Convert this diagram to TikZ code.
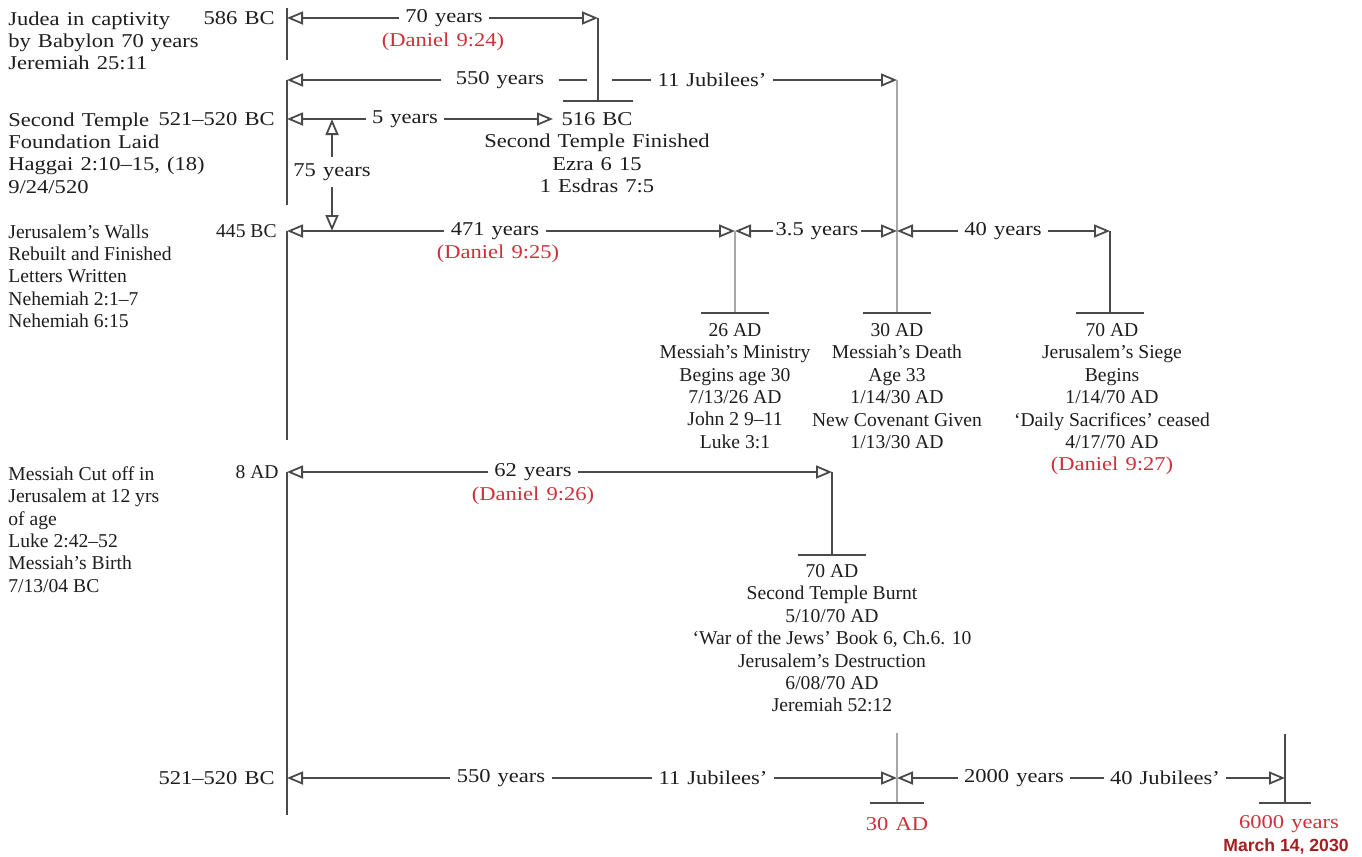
\documentclass[tikz,border=0pt]{standalone}
\usepackage{fontspec}
\setmainfont{Liberation Serif}
\newfontfamily\widefont[FakeStretch=1.15, WordSpace=1.25, Ligatures=TeX]{Liberation Serif}
\newfontfamily\plainfont[Ligatures=TeX]{Liberation Serif}
\newfontfamily\datefont{Liberation Sans}
\usetikzlibrary{arrows.meta}

\definecolor{ink}{HTML}{1E1E1E}
\definecolor{linegray}{HTML}{4A4A4A}
\definecolor{faintgray}{HTML}{A8A8A8}
\definecolor{danred}{HTML}{D0303A}
\definecolor{datered}{HTML}{A41E22}

\begin{document}
\begin{tikzpicture}
    [
        x=0.5pt, y=-0.5pt,
        time line/.style={draw=linegray, line width=0.8pt},
        span line/.style={draw=linegray, line width=0.9pt},
        span arrow/.style={span line, -{Triangle[open, length=8pt, width=6.5pt]}},
        faint line/.style={draw=faintgray, line width=0.6pt},
        bar line/.style={draw=linegray, line width=1.3pt},
        wide label/.style={font=\widefont\fontsize{9.8}{11.2}\selectfont, text=ink, inner sep=3pt},
        plain label/.style={font=\plainfont\fontsize{9.8}{11.2}\selectfont, text=ink, inner sep=2pt},
        wide block/.style={wide label, inner sep=0pt},
        plain block/.style={plain label, inner sep=0pt, align=center},
        daniel/.style={wide label, text=danred}
    ]

    \path [fill=white] (0, 0) rectangle (1362, 857);

    % left column
    \node [wide block, anchor=north west, align=left] (judea) at (8, 11) {Judea in captivity\\by Babylon 70 years\\Jeremiah 25:11};
    \node [wide label, anchor=east] (d586) at (281, 18) {586 BC};
    \node [wide block, anchor=north west, align=left] (temple) at (8, 112) {Second Temple\\Foundation Laid\\Haggai 2:10–15, (18)\\9/24/520};
    \node [wide label, anchor=east] (d521) at (281, 119) {521–520 BC};
    \node [plain block, anchor=north west, align=left] (walls) at (8, 224) {Jerusalem’s Walls\\Rebuilt and Finished\\Letters Written\\Nehemiah 2:1–7\\Nehemiah 6:15};
    \node [plain label, anchor=east] (d445) at (281, 231) {445 BC};
    \node [plain block, anchor=north west, align=left] (cutoff) at (8, 466) {Messiah Cut off in\\Jerusalem at 12 yrs\\of age\\Luke 2:42–52\\Messiah’s Birth\\7/13/04 BC};
    \node [plain label, anchor=east] (d8) at (283, 472) {8 AD};
    \node [wide label, anchor=east] (d521b) at (281, 778) {521–520 BC};

    \coordinate (t586) at (287, 8);
    \coordinate (t586e) at (287, 60);
    \coordinate (t550) at (287, 80);
    \coordinate (t521) at (287, 119);
    \coordinate (t521e) at (287, 205);
    \coordinate (t445) at (287, 231);
    \coordinate (t445e) at (287, 440);
    \coordinate (t8) at (287, 472);
    \coordinate (t8e) at (287, 815);
    \coordinate (tb) at (287, 778);
    \coordinate (t586a) at (287, 18);

    \draw [time line] (t586) -- (t586e);
    \draw [time line] (t550) -- (t521e);
    \draw [time line] (t445) -- (t445e);
    \draw [time line] (t8) -- (t8e);

    % 70 years
    \coordinate (e516) at (598, 18);
    \coordinate (e516b) at (598, 101);
    \node [wide label] (y70) at (444, 18) {70 years};
    \node [daniel] (dan24) at (443, 42) {(Daniel 9:24)};
    \draw [span arrow] (y70) -- (t586a);
    \draw [span arrow] (y70) -- (e516);
    \draw [time line] (e516) -- (e516b);
    \draw [bar line] (e516b) +(-35, 0) -- +(35, 0);

    % 550 years
    \coordinate (g550a) at (587, 80);
    \coordinate (g550b) at (612, 80);
    \coordinate (e30) at (897, 80);
    \coordinate (e30b) at (897, 313);
    \node [wide label, inner xsep=7pt] (y550) at (500, 80) {550 years};
    \node [wide label] (jub11) at (712, 80) {11 Jubilees’};
    \draw [span arrow] (y550) -- (t550);
    \draw [span line] (y550) -- (g550a);
    \draw [span line] (g550b) -- (jub11);
    \draw [span arrow] (jub11) -- (e30);
    \draw [faint line] (e30) -- (e30b);
    \draw [bar line] (e30b) +(-34, 0) -- +(34, 0);

    % 5 years and 75 years
    \coordinate (e516t) at (553, 119);
    \node [wide label] (y5) at (405, 119) {5 years};
    \draw [span arrow] (y5) -- (t521);
    \draw [span arrow] (y5) -- (e516t);
    \node [wide block, anchor=north, align=center] (fin516) at (597, 112) {516 BC\\Second Temple Finished\\Ezra 6 15\\1 Esdras 7:5};

    \coordinate (u75) at (332, 119);
    \coordinate (d75) at (332, 231);
    \node [wide label] (y75) at (332, 172) {75 years};
    \draw [span arrow] (y75) -- (u75);
    \draw [span arrow] (y75) -- (d75);

    % 471 years, 3.5 years, 40 years
    \coordinate (e26) at (735, 231);
    \coordinate (e26b) at (735, 313);
    \coordinate (e30m) at (897, 231);
    \coordinate (e70) at (1110, 231);
    \coordinate (e70b) at (1110, 313);
    \node [wide label] (y471) at (495, 231) {471 years};
    \node [daniel] (dan25) at (498, 254) {(Daniel 9:25)};
    \node [wide label, inner xsep=1pt] (y35) at (817, 231) {3.5 years};
    \node [wide label] (y40) at (1003, 231) {40 years};
    \draw [span arrow] (y471) -- (t445);
    \draw [span arrow] (y471) -- (e26);
    \draw [span arrow] (y35) -- (e26);
    \draw [span arrow] (y35) -- (e30m);
    \draw [span arrow] (y40) -- (e30m);
    \draw [span arrow] (y40) -- (e70);
    \draw [faint line] (e26) -- (e26b);
    \draw [bar line] (e26b) +(-34, 0) -- +(34, 0);
    \draw [time line] (e70) -- (e70b);
    \draw [bar line] (e70b) +(-34, 0) -- +(34, 0);

    \node [plain block, anchor=north] (m26) at (735, 323) {26 AD\\Messiah’s Ministry\\Begins age 30\\7/13/26 AD\\John 2 9–11\\Luke 3:1};
    \node [plain block, anchor=north] (m30) at (897, 323) {30 AD\\Messiah’s Death\\Age 33\\1/14/30 AD\\New Covenant Given\\1/13/30 AD};
    \node [plain block, anchor=north] (m70) at (1112, 323) {70 AD\\Jerusalem’s Siege\\Begins\\1/14/70 AD\\‘Daily Sacrifices’ ceased\\4/17/70 AD};
    \node [daniel] (dan27) at (1112, 466) {(Daniel 9:27)};

    % 62 years
    \coordinate (e70t) at (832, 472);
    \coordinate (e70tb) at (832, 555);
    \node [wide label] (y62) at (533, 472) {62 years};
    \node [daniel] (dan26) at (533, 496) {(Daniel 9:26)};
    \draw [span arrow] (y62) -- (t8);
    \draw [span arrow] (y62) -- (e70t);
    \draw [time line] (e70t) -- (e70tb);
    \draw [bar line] (e70tb) +(-34, 0) -- +(34, 0);
    \node [plain block, anchor=north] (burnt) at (832, 564) {70 AD\\Second Temple Burnt\\5/10/70 AD\\‘War of the Jews’ Book 6, Ch.6. 10\\Jerusalem’s Destruction\\6/08/70 AD\\Jeremiah 52:12};

    % 550 years and 2000 years
    \coordinate (x30) at (897, 778);
    \coordinate (x30t) at (897, 733);
    \coordinate (x30b) at (897, 803);
    \coordinate (x6000) at (1285, 778);
    \coordinate (x6000t) at (1285, 734);
    \coordinate (x6000b) at (1285, 803);
    \node [wide label] (b550) at (501, 778) {550 years};
    \node [wide label] (b11) at (713, 778) {11 Jubilees’};
    \node [wide label] (b2000) at (1014, 778) {2000 years};
    \node [wide label] (b40) at (1165, 778) {40 Jubilees’};
    \draw [span arrow] (b550) -- (tb);
    \draw [span line] (b550) -- (b11);
    \draw [span arrow] (b11) -- (x30);
    \draw [span arrow] (b2000) -- (x30);
    \draw [span line] (b2000) -- (b40);
    \draw [span arrow] (b40) -- (x6000);
    \draw [faint line] (x30t) -- (x30b);
    \draw [bar line] (x30b) +(-27, 0) -- +(27, 0);
    \draw [time line] (x6000t) -- (x6000b);
    \draw [bar line] (x6000b) +(-26, 0) -- +(26, 0);

    \node [daniel] (ad30) at (897, 824) {30 AD};
    \node [daniel] (y6000) at (1289, 824) {6000 years};
    \node [font=\datefont\bfseries\fontsize{8.8}{10}\selectfont, text=datered, inner sep=1pt] (march) at (1286, 846) {March 14, 2030};
\end{tikzpicture}
\end{document}
